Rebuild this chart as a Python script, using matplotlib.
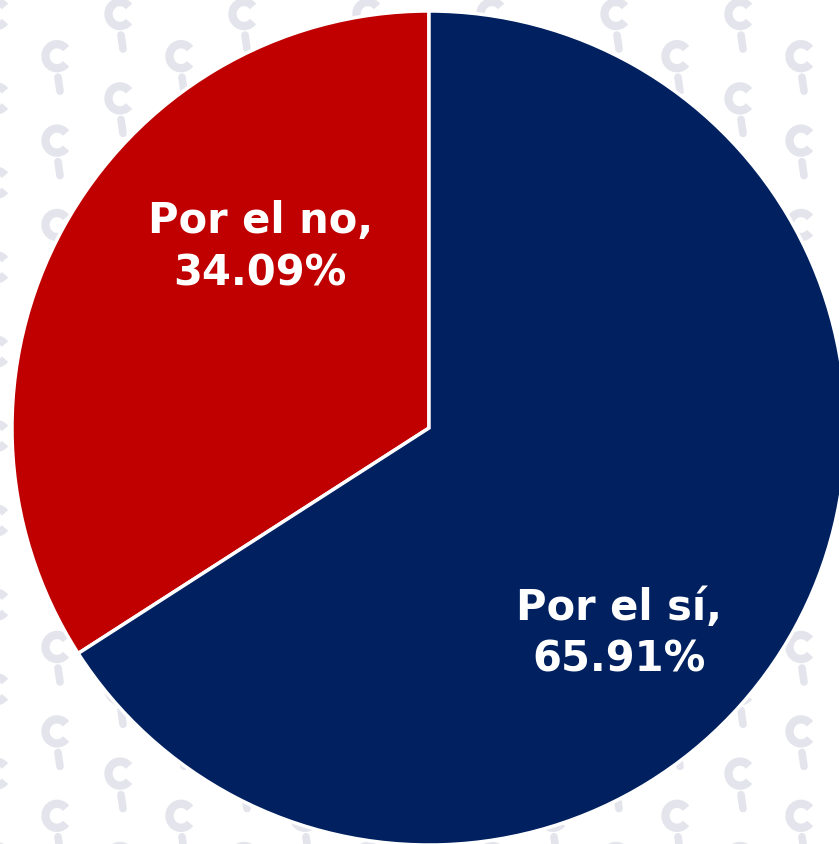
import numpy as np
import matplotlib
matplotlib.use("Agg")
import matplotlib.pyplot as plt
from matplotlib.patches import Arc

# Data
categories = ["Por el no", "Por el sí"]
values = [34.09, 65.91]
colors = ["#C00000", "#002060"]

W, H = 839, 845
fig = plt.figure(figsize=(W / 100, H / 100), dpi=100)
fig.patch.set_facecolor("white")

# watermark pattern (decorative logos)
wm = fig.add_axes([0, 0, 1, 1], zorder=0)
wm.set_xlim(0, W)
wm.set_ylim(H, 0)
wm.axis("off")
wm_color = "#E4E5EC"
for i, yy in enumerate(np.arange(15, H + 60, 42.2)):
    start = -4 if i % 2 == 0 else 57
    for xx in np.arange(start, W + 60, 124):
        wm.add_patch(Arc((xx, yy), 23, 24, theta1=40, theta2=320,
                         color=wm_color, lw=6))
        wm.add_patch(Arc((xx + 1, yy + 1), 8, 8, theta1=100, theta2=200,
                         color="white", lw=1.5))
        wm.plot([xx + 1, xx + 3], [yy + 21, yy + 35], color=wm_color,
                lw=5.5, solid_capstyle="round")

cx, cy, R = 429, 429, 417
ax = fig.add_axes([0, 0, 1, 1], zorder=1)
ax.patch.set_alpha(0)
wedges, _ = ax.pie(values, colors=colors, startangle=90, counterclock=True,
                   radius=1,
                   wedgeprops=dict(edgecolor="white", linewidth=2.5))
ax.set_aspect("auto")
ax.set_xlim(-cx / R, (W - cx) / R)
ax.set_ylim(-(H - cy) / R, cy / R)
ax.axis("off")

label_r = [0.595, 0.67]
offset = -18.5
for w, cat, v, r in zip(wedges, categories, values, label_r):
    ang = np.deg2rad((w.theta1 + w.theta2) / 2 + offset)
    ax.text(r * np.cos(ang), r * np.sin(ang), f"{cat},\n{v:.2f}%",
            ha="center", va="center", color="white", fontsize=30,
            fontweight="bold", family="DejaVu Sans", linespacing=1.3)

fig.savefig("out.png", dpi=100, facecolor="white")
